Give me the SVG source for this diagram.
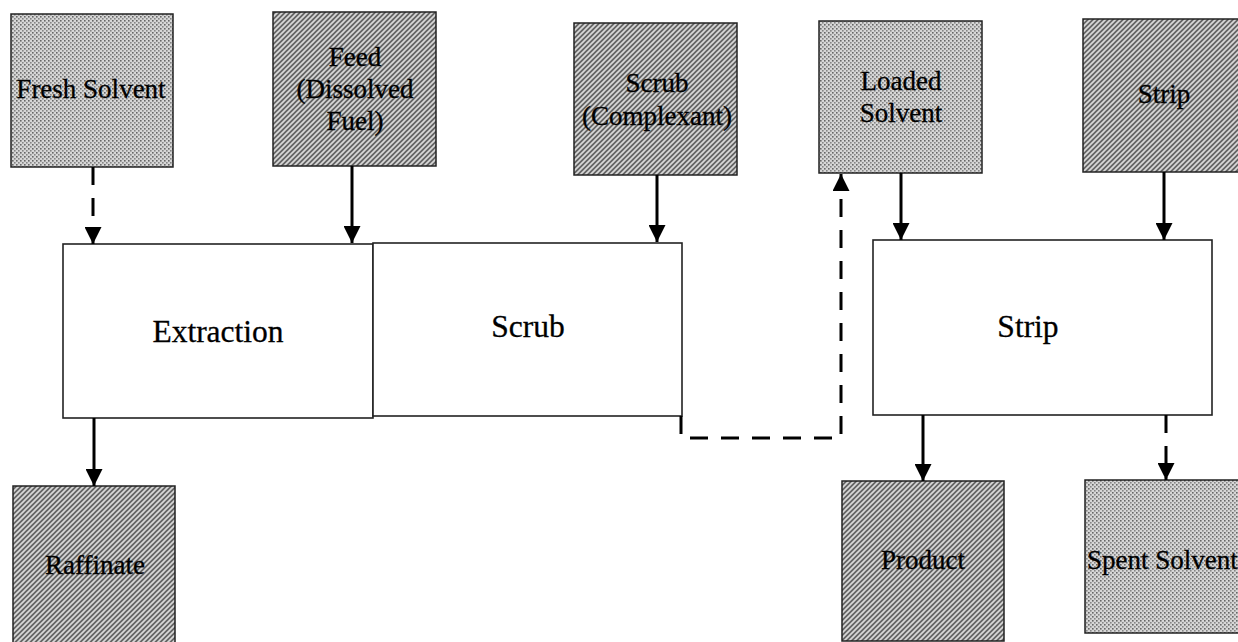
<svg xmlns="http://www.w3.org/2000/svg" width="1238" height="642" viewBox="0 0 1238 642">
  <style>
    .lbl { font-family: "Liberation Serif", "Times New Roman", serif; font-size: 27px; fill: #000; stroke: #000; stroke-width: 0.3; text-anchor: middle; }
    .big { font-family: "Liberation Serif", "Times New Roman", serif; font-size: 31.5px; fill: #000; stroke: #000; stroke-width: 0.3; text-anchor: middle; }
    .stip { fill: url(#stipple); stroke: #222; stroke-width: 1.5; }
    .hatch { fill: url(#hatch); stroke: #222; stroke-width: 1.5; }
    .stage { fill: #fff; stroke: #222; stroke-width: 1.6; }
    .flow { fill: none; stroke: #000; stroke-width: 3; }
    .dash { stroke-dasharray: 18 13; }
  </style>
  <defs>
    <!-- fine dotted grey screen -->
    <pattern id="stipple" width="4" height="4" patternUnits="userSpaceOnUse">
      <rect width="4" height="4" fill="#d6d6d6"/>
      <rect x="0" y="0" width="1.6" height="1.6" fill="#666"/>
      <rect x="2" y="2" width="1.6" height="1.6" fill="#858585"/>
    </pattern>
    <!-- diagonal hatch, dark ground with light "/" stripes -->
    <pattern id="hatch" width="5" height="5" patternUnits="userSpaceOnUse">
      <rect width="5" height="5" fill="#646464"/>
      <path d="M-1,1 L1,-1 M0,5 L5,0 M4,6 L6,4" stroke="#d8d8d8" stroke-width="1.7" fill="none"/>
    </pattern>
    <marker id="arrow" viewBox="0 0 10 10" refX="10" refY="5" markerUnits="userSpaceOnUse" markerWidth="17" markerHeight="17" orient="auto">
      <path d="M0,0 L10,5 L0,10 Z" fill="#000"/>
    </marker>
  </defs>

  <rect width="1238" height="642" fill="#fff"/>

  <!-- feed streams -->
  <g id="fresh-solvent">
    <rect class="stip" x="11" y="14" width="162" height="153"/>
    <text class="lbl" x="91" y="98">Fresh Solvent</text>
  </g>
  <g id="feed">
    <rect class="hatch" x="273" y="12" width="163" height="154"/>
    <text class="lbl" x="355" y="66">Feed</text>
    <text class="lbl" x="355" y="98">(Dissolved</text>
    <text class="lbl" x="355" y="130">Fuel)</text>
  </g>
  <g id="scrub-complexant">
    <rect class="hatch" x="574" y="23" width="163" height="152"/>
    <text class="lbl" x="657" y="92">Scrub</text>
    <text class="lbl" x="657" y="125">(Complexant)</text>
  </g>
  <g id="loaded-solvent">
    <rect class="stip" x="819" y="21" width="163" height="152"/>
    <text class="lbl" x="901" y="90">Loaded</text>
    <text class="lbl" x="901" y="122">Solvent</text>
  </g>
  <g id="strip-feed">
    <rect class="hatch" x="1083" y="19" width="163" height="153"/>
    <text class="lbl" x="1164" y="103">Strip</text>
  </g>

  <!-- process stages -->
  <g id="extraction">
    <rect class="stage" x="63" y="244" width="310" height="174"/>
    <text class="big" x="218" y="342">Extraction</text>
  </g>
  <g id="scrub">
    <rect class="stage" x="373" y="243" width="309" height="173"/>
    <text class="big" x="528" y="337">Scrub</text>
  </g>
  <g id="strip">
    <rect class="stage" x="873" y="240" width="339" height="175"/>
    <text class="big" x="1028" y="337">Strip</text>
  </g>

  <!-- product streams -->
  <g id="raffinate">
    <rect class="hatch" x="13" y="486" width="162" height="170"/>
    <text class="lbl" x="95" y="574">Raffinate</text>
  </g>
  <g id="product">
    <rect class="hatch" x="842" y="481" width="162" height="160"/>
    <text class="lbl" x="923" y="569">Product</text>
  </g>
  <g id="spent-solvent">
    <rect class="stip" x="1085" y="480" width="163" height="153"/>
    <text class="lbl" x="1087" y="569" style="text-anchor:start">Spent Solvent</text>
  </g>

  <!-- connectors -->
  <g id="connectors">
    <line class="flow dash" x1="93" y1="167" x2="93" y2="244" marker-end="url(#arrow)"/>
    <line class="flow" x1="352" y1="166" x2="352" y2="243" marker-end="url(#arrow)"/>
    <line class="flow" x1="657" y1="175" x2="657" y2="242" marker-end="url(#arrow)"/>
    <line class="flow" x1="901" y1="173" x2="901" y2="240" marker-end="url(#arrow)"/>
    <line class="flow" x1="1164" y1="172" x2="1164" y2="240" marker-end="url(#arrow)"/>
    <line class="flow" x1="94" y1="418" x2="94" y2="486" marker-end="url(#arrow)"/>
    <line class="flow" x1="923" y1="415" x2="923" y2="481" marker-end="url(#arrow)"/>
    <line class="flow dash" x1="1166" y1="415" x2="1166" y2="480" marker-end="url(#arrow)"/>
    <path class="flow dash" d="M681,416 L681,438 L841,438 L841,174" marker-end="url(#arrow)"/>
  </g>
</svg>
